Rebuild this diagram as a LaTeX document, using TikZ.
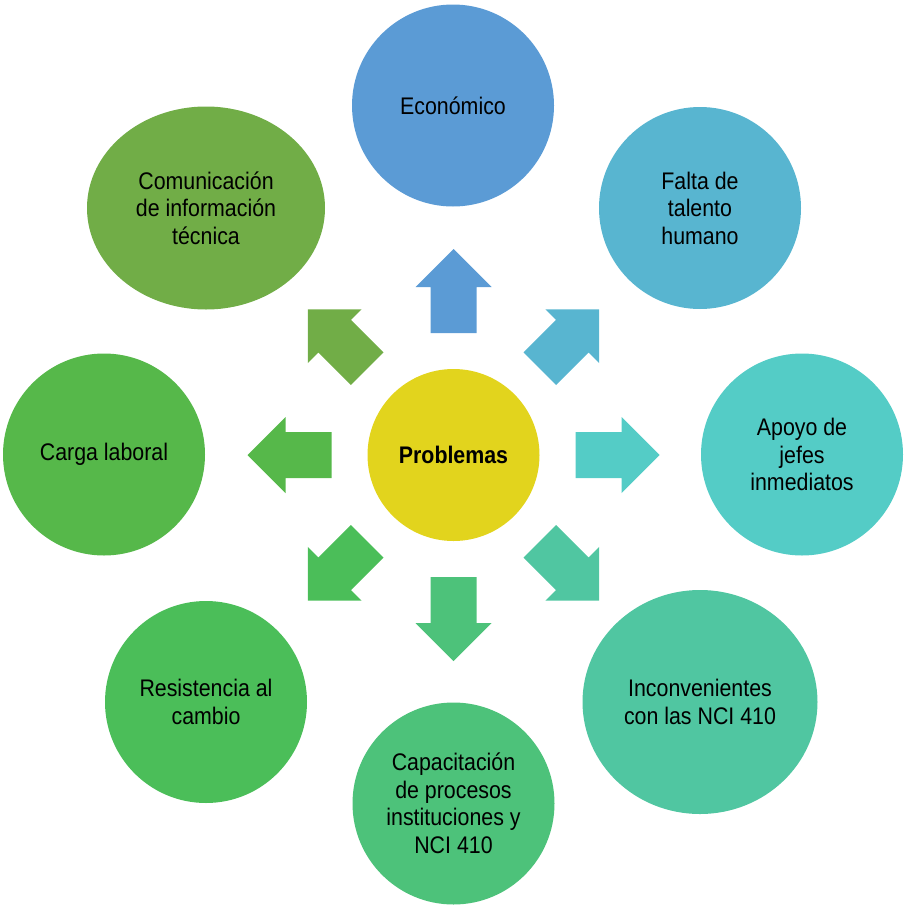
\documentclass[tikz,border=0pt]{standalone}
\usepackage{fontspec}
\setmainfont{Liberation Sans}[FakeStretch=0.89]
\usetikzlibrary{shapes.geometric}

\definecolor{cEcon}{HTML}{5B9BD5}
\definecolor{cTalento}{HTML}{58B5D0}
\definecolor{cApoyo}{HTML}{54CCC6}
\definecolor{cNci}{HTML}{50C6A1}
\definecolor{cCapac}{HTML}{4DC27A}
\definecolor{cResist}{HTML}{4BBE59}
\definecolor{cCarga}{HTML}{56B84A}
\definecolor{cComun}{HTML}{71AD47}
\definecolor{cHub}{HTML}{E2D41D}

\tikzset{
  bubble/.style={circle, minimum size=202pt, inner sep=0pt, align=center,
    font=\fontsize{24}{27.5}\selectfont, text=black},
  oval/.style={ellipse, inner sep=0pt, align=center,
    font=\fontsize{24}{27.5}\selectfont, text=black},
  hubstyle/.style={circle, minimum size=172pt, inner sep=0pt, fill=cHub,
    font=\bfseries\fontsize{24}{27.5}\selectfont, text=black},
}

% block arrow pointing away from the hub at angle #1, filled with #2
\newcommand\blockarrow[2]{%
  \fill[#2, shift={(hub.center)}, rotate=#1]
    (122,-23) -- (168,-23) -- (168,-38) -- (206,0) -- (168,38) -- (168,23)
    -- (122,23) -- cycle;}

\begin{document}
\begin{tikzpicture}[x=1pt, y=-1pt]
\useasboundingbox (0,0) rectangle (903,905);

\node[hubstyle] (hub) at (453.5,455) {Problemas};

\node[bubble, fill=cEcon]    (econ)    at (453,105.5) {Económico};
\node[bubble, fill=cTalento] (talento) at (700,208)   {Falta de\\talento\\humano};
\node[bubble, fill=cApoyo]   (apoyo)   at (802,454.5) {Apoyo de\\jefes\\inmediatos};
\node[oval, fill=cNci, minimum width=235pt, minimum height=224pt]
                             (nci)     at (700,702)   {Inconvenientes\\con las NCI 410};
\node[bubble, fill=cCapac]   (capac)   at (453.5,803.5) {Capacitación\\de procesos\\instituciones y\\NCI 410};
\node[bubble, fill=cResist]  (resist)  at (206,702)   {Resistencia al\\cambio};
\node[bubble, fill=cCarga]   (carga)   at (104,454.5) {Carga laboral};
\node[oval, fill=cComun, minimum width=238pt, minimum height=203pt]
                             (comun)   at (206,208)   {Comunicación\\de información\\técnica};

\blockarrow{90}{cEcon}
\blockarrow{45}{cTalento}
\blockarrow{0}{cApoyo}
\blockarrow{-45}{cNci}
\blockarrow{-90}{cCapac}
\blockarrow{-135}{cResist}
\blockarrow{180}{cCarga}
\blockarrow{135}{cComun}
\end{tikzpicture}
\end{document}
